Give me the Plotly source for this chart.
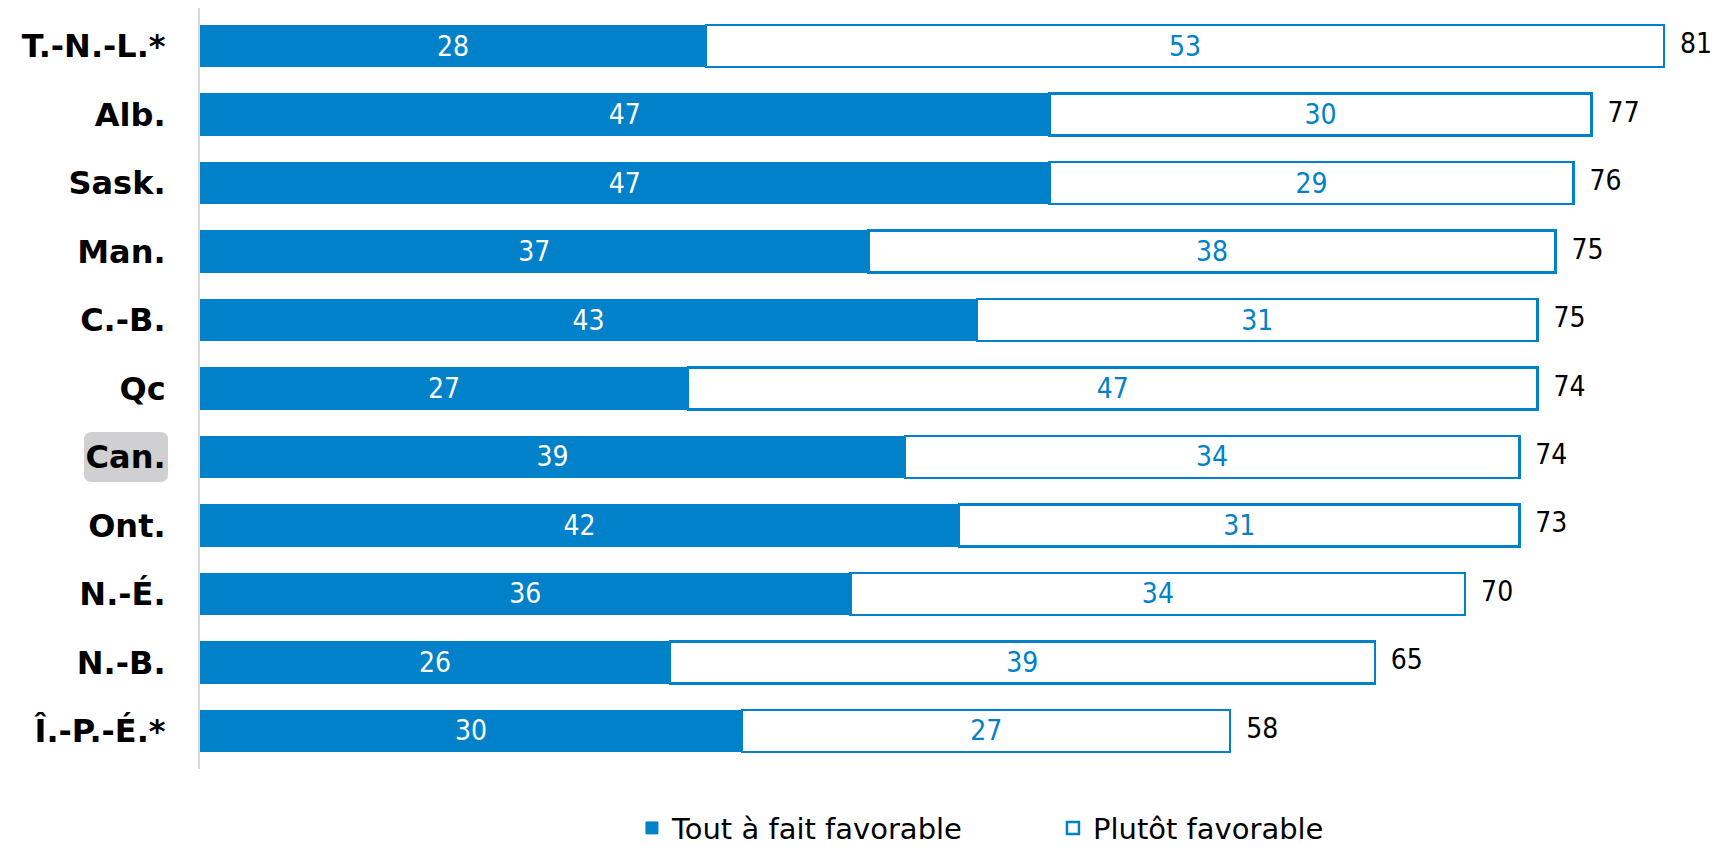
import plotly.graph_objects as go

categories = ["T.-N.-L.*", "Alb.", "Sask.", "Man.", "C.-B.", "Qc", "Can.", "Ont.", "N.-É.", "N.-B.", "Î.-P.-É.*"]
tout_a_fait = [28, 47, 47, 37, 43, 27, 39, 42, 36, 26, 30]
plutot = [53, 30, 29, 38, 31, 47, 34, 31, 34, 39, 27]
totals = [81, 77, 76, 75, 75, 74, 74, 73, 70, 65, 58]
series_names = ["Tout à fait favorable", "Plutôt favorable"]
highlight = "Can."

BLUE = "#0081C9"
FONT = "DejaVu Sans Condensed"

# end of each stacked bar (total label is placed just after it)
bar_end = [a + b for a, b in zip(tout_a_fait, plutot)]

fig = go.Figure()
fig.add_trace(go.Bar(
    y=categories, x=tout_a_fait, orientation="h", name=series_names[0],
    marker=dict(color=BLUE, line=dict(color=BLUE, width=1)),
    width=0.61,
    text=tout_a_fait, textposition="inside", insidetextanchor="middle",
    textangle=0, textfont=dict(color="white", size=28, family=FONT),
    hoverinfo="skip",
))
fig.add_trace(go.Bar(
    y=categories, x=plutot, orientation="h", name=series_names[1],
    marker=dict(color="white", line=dict(color=BLUE, width=2.5)),
    width=0.61,
    text=plutot, textposition="inside", insidetextanchor="middle",
    textangle=0, textfont=dict(color=BLUE, size=28, family=FONT),
    hoverinfo="skip",
))
fig.add_trace(go.Scatter(
    y=categories, x=bar_end, mode="text",
    text=totals, texttemplate="  %{text}", textposition="middle right",
    textfont=dict(color="black", size=28, family=FONT),
    showlegend=False, cliponaxis=False, hoverinfo="skip",
))

# rounded highlight box behind the "Can." label
r = 8
x0, x1, y0, y1 = -116, -32, -25, 25
path = (f"M {x0+r},{y0} L {x1-r},{y0} Q {x1},{y0} {x1},{y0+r} "
        f"L {x1},{y1-r} Q {x1},{y1} {x1-r},{y1} L {x0+r},{y1} "
        f"Q {x0},{y1} {x0},{y1-r} L {x0},{y0+r} Q {x0},{y0} {x0+r},{y0} Z")
fig.add_shape(type="path", path=path, xref="paper", yref="y",
              xsizemode="pixel", ysizemode="pixel", xanchor=0, yanchor=highlight,
              fillcolor="#D0D0D2", line=dict(width=0), layer="below")

fig.update_layout(
    width=1714, height=847,
    margin=dict(l=200, r=32, t=8, b=78),
    barmode="stack", bargap=0.39,
    plot_bgcolor="white", paper_bgcolor="white",
    font=dict(family=FONT, color="black"),
    showlegend=True,
    legend=dict(orientation="h", xref="container", yref="container",
                x=0.3687, xanchor="left", y=0.0224, yanchor="middle",
                font=dict(size=29, family="DejaVu Sans", color="black"),
                entrywidth=376, traceorder="normal"),
    xaxis=dict(range=[0, 82], showgrid=False, zeroline=False, showticklabels=False,
               showline=False, fixedrange=True),
    yaxis=dict(autorange="reversed", showgrid=False, zeroline=False,
               showline=True, linecolor="#D9D9D9", linewidth=2,
               ticks="", ticklabelstandoff=26,
               tickfont=dict(family="DejaVu Sans", size=32, color="black", weight="bold"),
               fixedrange=True),
)

fig.write_html("out.html", config={"displayModeBar": False},
               post_script="document.body.style.margin='0px';document.body.style.overflow='hidden';")
